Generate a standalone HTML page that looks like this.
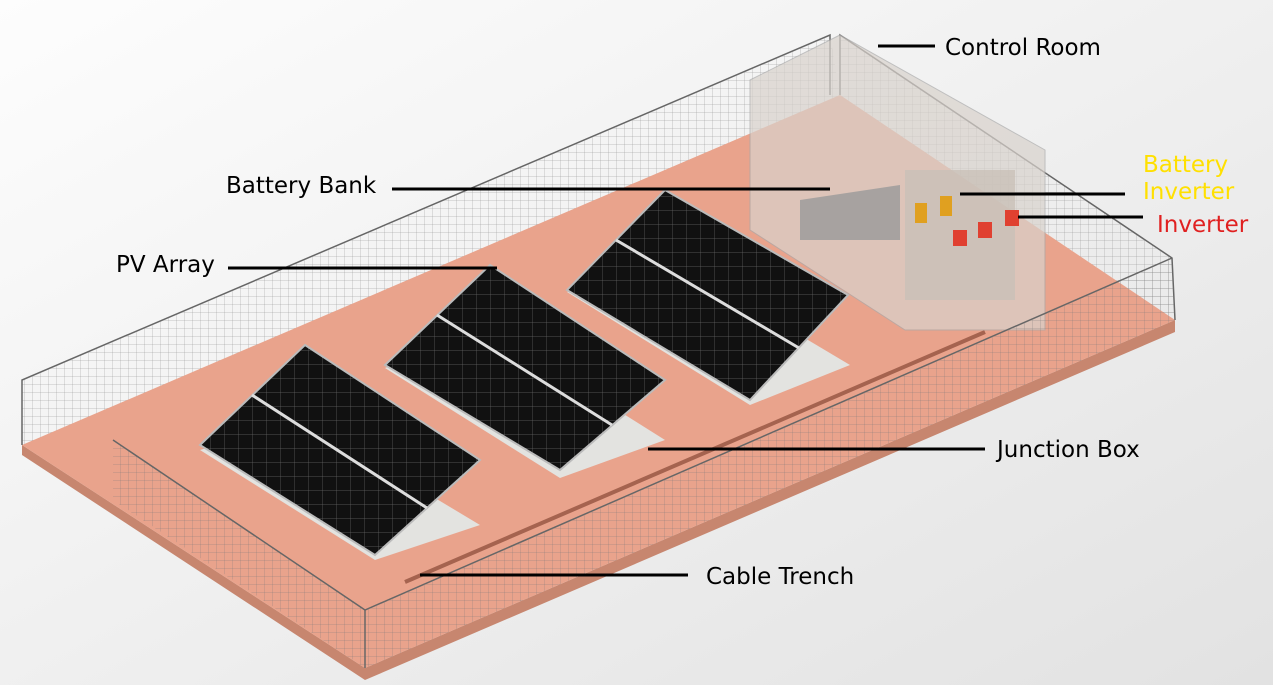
<!DOCTYPE html>
<html><head><meta charset="utf-8"><style>
html,body{margin:0;padding:0;background:#f3f3f3}
svg{display:block}
text{font-family:"DejaVu Sans","Liberation Sans",sans-serif;font-size:23px}
</style></head><body>
<svg width="1273" height="685" viewBox="0 0 1273 685" xmlns="http://www.w3.org/2000/svg">
<defs>
<linearGradient id="bg" x1="0" y1="0" x2="1" y2="1"><stop offset="0" stop-color="#fdfdfd"/><stop offset="1" stop-color="#e2e2e2"/></linearGradient>
<pattern id="mesh" width="8" height="8" patternUnits="userSpaceOnUse"><path d="M0 0V8M0 0H8" stroke="#777" stroke-width="0.5" fill="none"/></pattern>
<pattern id="cells" width="14" height="14" patternUnits="userSpaceOnUse"><rect width="14" height="14" fill="#111"/><path d="M0 0H14M0 0V14" stroke="#666" stroke-width="0.7"/></pattern>
</defs>
<rect width="1273" height="685" fill="url(#bg)"/>
<polygon points="22,445 365,668 1175,320 1175,332 365,680 22,455" fill="#c7866f"/>
<polygon points="22,445 840,95 1175,320 365,668" fill="#e9a38c"/>
<polygon points="22,445 22,380 830,35 840,95" fill="url(#mesh)" opacity="0.8"/>
<polyline points="22,445 22,380 830,35 830,95" fill="none" stroke="#666" stroke-width="1.5"/>
<polygon points="840,95 840,35 1172,258 1175,320" fill="url(#mesh)" opacity="0.8"/>
<polyline points="840,95 840,35 1172,258 1175,320" fill="none" stroke="#666" stroke-width="1.5"/>
<line x1="405" y1="582" x2="985" y2="332" stroke="#a5634f" stroke-width="4"/>
<polygon points="200,450 375,560 480,525 305,420" fill="#e3e3e0"/>
<polygon points="385,368 560,478 665,440 490,330" fill="#e3e3e0"/>
<polygon points="567,292 750,405 850,365 665,255" fill="#e3e3e0"/>
<g stroke="#bbb" stroke-width="2">
<polygon points="305,345 480,460 375,555 200,445" fill="url(#cells)"/>
<polygon points="490,265 665,380 560,470 385,365" fill="url(#cells)"/>
<polygon points="665,190 848,295 750,400 567,290" fill="url(#cells)"/>
</g>
<g stroke="#ddd" stroke-width="3">
<line x1="252" y1="395" x2="427" y2="508"/>
<line x1="437" y1="315" x2="612" y2="425"/>
<line x1="616" y1="240" x2="799" y2="348"/>
</g>
<polygon points="750,80 840,35 1045,150 1045,330 905,330 750,230" fill="#d8d2cc" opacity="0.7" stroke="#aaa"/>
<polygon points="800,200 900,185 900,240 800,240" fill="#9a9a9a" opacity="0.8"/>
<rect x="905" y="170" width="110" height="130" fill="#c9c0b8" opacity="0.8"/>
<rect x="915" y="203" width="12" height="20" fill="#e0a020"/>
<rect x="940" y="196" width="12" height="20" fill="#e0a020"/>
<rect x="953" y="230" width="14" height="16" fill="#e04030"/>
<rect x="978" y="222" width="14" height="16" fill="#e04030"/>
<rect x="1005" y="210" width="14" height="16" fill="#e04030"/>
<polygon points="113,440 113,500 365,668 365,610" fill="url(#mesh)" opacity="0.9"/>
<polyline points="113,440 365,610 1172,258" fill="none" stroke="#666" stroke-width="1.5"/>
<polygon points="365,610 1172,258 1175,320 365,668" fill="url(#mesh)" opacity="0.9"/>
<line x1="365" y1="610" x2="365" y2="668" stroke="#666" stroke-width="1.5"/>
<g stroke="#000" stroke-width="3">
<line x1="878" y1="46" x2="935" y2="46"/>
<line x1="392" y1="189" x2="830" y2="189"/>
<line x1="228" y1="268" x2="497" y2="268"/>
<line x1="960" y1="194" x2="1125" y2="194"/>
<line x1="1018" y1="217" x2="1143" y2="217"/>
<line x1="648" y1="449" x2="985" y2="449"/>
<line x1="420" y1="575" x2="688" y2="575"/>
</g>
<text x="945" y="55">Control Room</text>
<text x="226" y="193">Battery Bank</text>
<text x="116" y="272">PV Array</text>
<text x="1143" y="172" fill="#ffe000">Battery</text>
<text x="1143" y="199" fill="#ffe000">Inverter</text>
<text x="1157" y="232" fill="#e02020">Inverter</text>
<text x="997" y="457">Junction Box</text>
<text x="706" y="584">Cable Trench</text>
</svg>
</body></html>
